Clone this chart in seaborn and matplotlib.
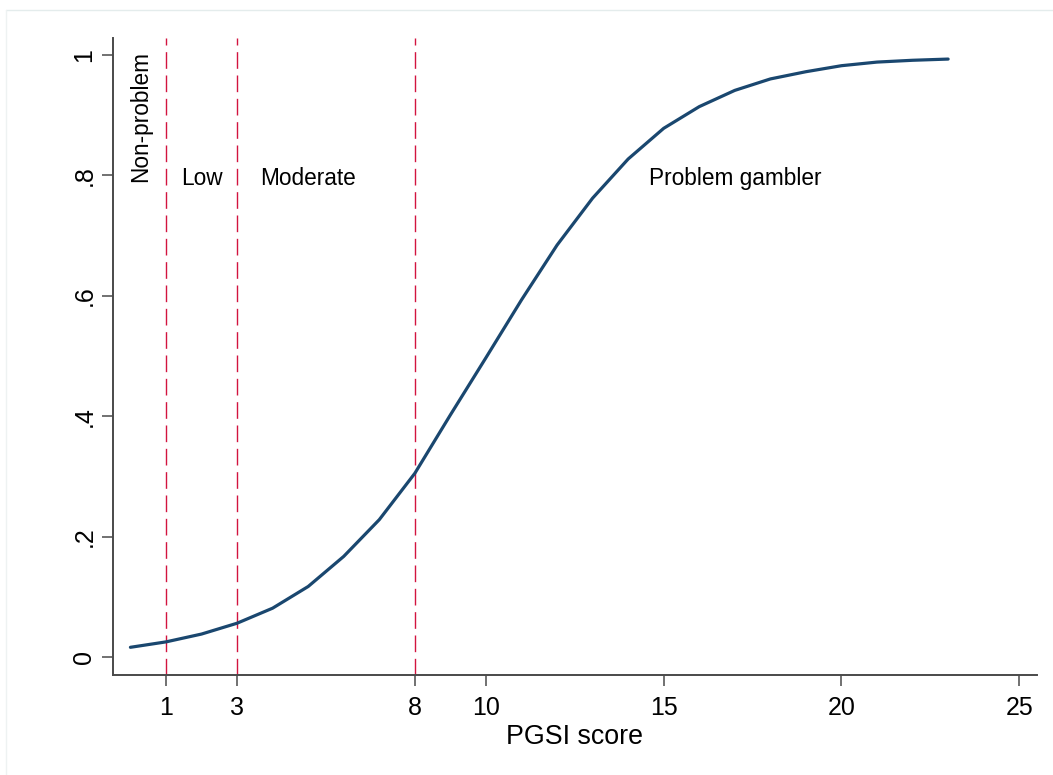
import matplotlib
matplotlib.use("Agg")
import matplotlib.pyplot as plt
from matplotlib.lines import Line2D
import seaborn as sns
import pandas as pd

# Predicted probability of problem gambling by PGSI score
pgsi_score = list(range(0, 24))
probability = [0.016, 0.025, 0.038, 0.056, 0.081, 0.117, 0.167, 0.228,
               0.305, 0.402, 0.497, 0.593, 0.684, 0.762, 0.827, 0.878,
               0.914, 0.941, 0.960, 0.972, 0.982, 0.988, 0.991, 0.993]

# Category cut points and region labels
cut_points = [1, 3, 8]
region_labels = ["Non-problem", "Low", "Moderate", "Problem gambler"]
region_label_x = [0.29, 2.0, 5.0, 17.0]

x_ticks = [1, 3, 8, 10, 15, 20, 25]
y_ticks = [0, 0.2, 0.4, 0.6, 0.8, 1.0]
y_tick_labels = ["0", ".2", ".4", ".6", ".8", "1"]

df = pd.DataFrame({"PGSI score": pgsi_score, "Probability": probability})

sns.set_theme(style="white")
plt.rcParams["font.family"] = ["Liberation Sans", "DejaVu Sans"]

W, H = 1053, 775
fig = plt.figure(figsize=(W / 100, H / 100), dpi=100)
fig.patch.set_facecolor("white")

# faint outer graph-region outline
fig.add_artist(Line2D([6 / W, 1.01], [1 - 10 / H, 1 - 10 / H],
                      transform=fig.transFigure, color="#e4ecec", lw=1.0))
fig.add_artist(Line2D([6 / W, 6 / W], [1 - 10 / H, -0.01],
                      transform=fig.transFigure, color="#eef2f2", lw=1.0))

left, right, bottom, top = 113 / W, 1037 / W, 1 - 675 / H, 1 - 38 / H
ax = fig.add_axes([left, bottom, right - left, top - bottom])
ax.set_facecolor("white")

crimson = "#d2143f"
for xc in cut_points:
    ax.plot([xc, xc], [-0.03, 1.028], color=crimson, lw=1.0,
            dashes=(12, 4.8), zorder=1, clip_on=False)

sns.lineplot(data=df, x="PGSI score", y="Probability", ax=ax,
             color="#1a476f", lw=2.3, zorder=3)

ax.set_xlim(-0.49, 25.5)
ax.set_ylim(-0.03, 1.028)

ax.set_xticks(x_ticks)
ax.set_xticklabels([str(t) for t in x_ticks])
ax.set_yticks(y_ticks)
ax.set_yticklabels(y_tick_labels, rotation=90, va="center")

spine_color = "#4a4a4a"
for side in ["top", "right"]:
    ax.spines[side].set_visible(False)
for side in ["left", "bottom"]:
    ax.spines[side].set_visible(True)
    ax.spines[side].set_color(spine_color)
    ax.spines[side].set_linewidth(1.4)

ax.tick_params(axis="both", which="major", direction="out", length=8,
               width=1.1, color=spine_color, labelsize=18, labelcolor="black",
               bottom=True, left=True)
ax.tick_params(axis="x", pad=7)
ax.tick_params(axis="y", pad=4)

ax.set_xlabel("PGSI score", fontsize=19.3, color="black", labelpad=3)
ax.set_ylabel("")
ax.grid(False)

# region labels
ax.text(region_label_x[0], 0.789, region_labels[0], rotation=90,
        ha="center", va="bottom", fontsize=16.3, color="black")
for xl, lab in zip(region_label_x[1:], region_labels[1:]):
    ax.text(xl, 0.784, lab, ha="center", va="baseline", fontsize=16.3,
            color="black")

fig.savefig("out.png", dpi=100, facecolor="white")
